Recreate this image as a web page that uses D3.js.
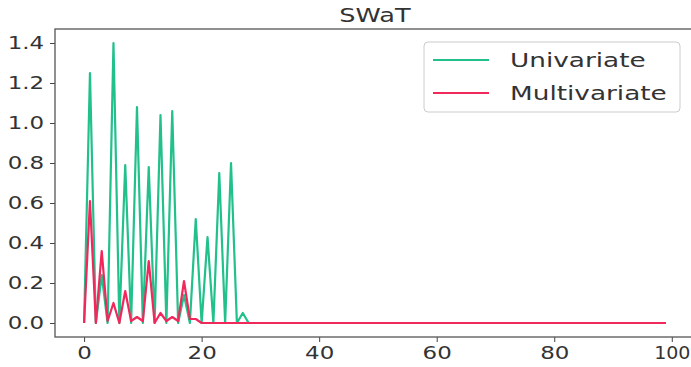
<!DOCTYPE html>
<html>
<head>
<meta charset="utf-8">
<script src="https://cdn.jsdelivr.net/npm/d3@7"></script>
<style>
  html, body { margin: 0; padding: 0; background: #fff; }
  svg { display: block; }
  text { font-family: "DejaVu Sans", sans-serif; fill: #333; }
</style>
</head>
<body>
<script>
const title = "SWaT";
const seriesNames = ["Univariate", "Multivariate"];
const seriesColors = ["#22c08a", "#f0285c"];
const univariateHead = [0, 1.25, 0, 0.24, 0, 1.40, 0, 0.79, 0, 1.08, 0, 0.78, 0, 1.04, 0, 1.06, 0, 0.14, 0, 0.52, 0, 0.43, 0, 0.75, 0, 0.80, 0, 0.05];
const multivariateHead = [0, 0.61, 0, 0.36, 0.01, 0.10, 0, 0.16, 0.01, 0.03, 0.01, 0.31, 0, 0.05, 0.01, 0.03, 0.01, 0.21, 0.02, 0.02];
const nPoints = 100;
const xTicks = [0, 20, 40, 60, 80, 100];
const yTicks = [0.0, 0.2, 0.4, 0.6, 0.8, 1.0, 1.2, 1.4];

function pad(arr) {
  const out = arr.slice();
  while (out.length < nPoints) out.push(0);
  return out;
}
const univariate = pad(univariateHead);
const multivariate = pad(multivariateHead);

const W = 691, H = 367;
const SX = 1.35; // horizontal stretch of the source image text
const svg = d3.select("body").append("svg").attr("width", W).attr("height", H);

const mLeft = 55, mRight = 695, mTop = 29, mBottom = 337;
const x = d3.scaleLinear().domain([-4.95, 103.95]).range([mLeft, mRight]);
const y = d3.scaleLinear().domain([-0.07, 1.47]).range([mBottom, mTop]);

// axes
const xAxis = d3.axisBottom(x).tickValues(xTicks).tickFormat(d3.format("d")).tickSize(5).tickPadding(5);
const yAxis = d3.axisLeft(y).tickValues(yTicks).tickFormat(d3.format(".1f")).tickSize(5).tickPadding(3);

const gx = svg.append("g").attr("transform", `translate(0,${mBottom})`).call(xAxis);
const gy = svg.append("g").attr("transform", `translate(${mLeft},0)`).call(yAxis);
[gx, gy].forEach(g => {
  g.select(".domain").remove();
  g.selectAll(".tick line").attr("stroke", "#444").attr("stroke-width", 1);
  g.selectAll(".tick text").style("font-size", "17px").attr("fill", "#333");
});
gy.selectAll(".tick text").attr("transform", `scale(${SX},1)`);
gx.selectAll(".tick text").attr("transform", (d, i, n) => `scale(${i === n.length - 1 ? 1.12 : SX},1)`);

// frame
svg.append("rect").attr("x", mLeft).attr("y", mTop).attr("width", mRight - mLeft).attr("height", mBottom - mTop)
  .attr("fill", "none").attr("stroke", "#555").attr("stroke-width", 1.3);

// lines
const line = d3.line().x((d, i) => x(i)).y(d => y(d));
[univariate, multivariate].forEach((data, k) => {
  svg.append("path").datum(data).attr("d", line)
    .attr("fill", "none").attr("stroke", seriesColors[k]).attr("stroke-width", 2.2)
    .attr("stroke-linejoin", "round");
});

// title
svg.append("g").attr("transform", `translate(${(mLeft + mRight) / 2},22)`)
  .append("text").attr("text-anchor", "middle").attr("transform", `scale(1.28,1)`)
  .style("font-size", "20px").text(title);

// legend
const lg = svg.append("g");
lg.append("rect").attr("x", 424).attr("y", 42).attr("width", 256).attr("height", 70).attr("rx", 4)
  .attr("fill", "#fff").attr("stroke", "#ccc").attr("stroke-width", 1);
seriesNames.forEach((name, k) => {
  const yy = 60 + k * 33;
  lg.append("line").attr("x1", 433).attr("x2", 489).attr("y1", yy).attr("y2", yy)
    .attr("stroke", seriesColors[k]).attr("stroke-width", 2.2);
  lg.append("g").attr("transform", `translate(510,${yy + 7})`)
    .append("text").attr("transform", `scale(${SX},1)`).style("font-size", "19.5px").text(name);
});
</script>
</body>
</html>
